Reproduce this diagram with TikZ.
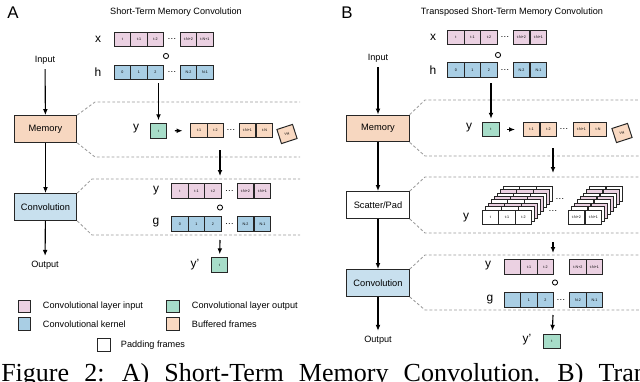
\documentclass[tikz,border=0pt]{standalone}
\usepackage{fontspec}
\setmainfont{Liberation Sans}
\newfontfamily\capserif{Liberation Serif}
\usetikzlibrary{arrows.meta,positioning}
\definecolor{inpink}{HTML}{EBD1E2}
\definecolor{kerblue}{HTML}{A9CEE4}
\definecolor{outgreen}{HTML}{A7DDC9}
\definecolor{bufpeach}{HTML}{F9D9C2}
\definecolor{memfill}{HTML}{F7D7C0}
\definecolor{convfill}{HTML}{C8E0EE}
\definecolor{zonegray}{HTML}{9A9A9A}
\tikzset{
  >={Latex[length=1.5mm,width=1.2mm]},
  cell/.style={draw=black!85, line width=.7pt, minimum width=4.1mm, minimum height=3.7mm, inner sep=0pt, font=\fontsize{2.6}{3}\selectfont},
  stage/.style={draw=black!85, line width=.7pt, minimum width=15.6mm, minimum height=6.7mm, inner sep=0pt, font=\fontsize{6.6}{8}\selectfont},
  lbl/.style={font=\fontsize{6.5}{8}\selectfont},
  var/.style={font=\fontsize{8.5}{10}\selectfont},
  flow/.style={->, line width=.8pt},
  zone/.style={draw=zonegray, line width=.6pt, dash pattern=on 2pt off 1.5pt},
  comp/.style={circle, draw, line width=.6pt, minimum size=1.3mm, inner sep=0pt},
  key/.style={draw=black!85, line width=.7pt, minimum size=3.2mm, inner sep=0pt}
}
\begin{document}
\begin{tikzpicture}[x=0.025cm,y=-0.025cm]
  \useasboundingbox (0,0) rectangle (640,382);

  % ---- panel A
  \node[font=\fontsize{12}{14}\selectfont] (tagA) at (13,13) {A};
  \node[lbl] (titleA) at (176,12) {Short-Term Memory Convolution};

  \node[var] (xA) at (98,39) {x};
  \foreach \cx/\t [count=\i] in {122.5/t,139/t-1,155.5/t-2,188.5/t-N+2,205/t-N+1}
    \node[cell,fill=inpink] (xA\i) at (\cx,39.5) {\t};
  \node[lbl] (xAdots) at (172,39.5) {\dots};
  \node[comp] (oA1) at (166,56) {};
  \node[var] (hA) at (98,72) {h};
  \foreach \cx/\t [count=\i] in {122.5/0,139/1,155.5/2,188.5/N-2,205/N-1}
    \node[cell,fill=kerblue] (hA\i) at (\cx,72.5) {\t};
  \node[lbl] (hAdots) at (172,72.5) {\dots};

  \node[lbl] (inA) at (45,60) {Input};
  \node[stage,fill=memfill] (memA) at (45.5,129) {Memory};
  \node[stage,fill=convfill] (convA) at (45.5,207) {Convolution};
  \node[lbl] (outA) at (45,265) {Output};
  \draw[flow] (inA) -- (memA);
  \draw[flow] (memA) -- (convA);
  \draw[flow] (convA) -- (outA);

  % memory zone
  \draw[zone] (memA.north east) -- (95,102) -- (300,102);
  \draw[zone] (memA.south east) -- (95,157) -- (300,157);
  \coordinate (hAend) at (158.5,83);
  \node[var] (yA) at (136,129) {y};
  \node[cell,fill=outgreen] (yAnew) at (158.5,131) {t};
  \draw[flow,shorten >=2pt] (hAend) -- (yAnew);
  \foreach \cx/\t [count=\i] in {199/t-1,215.5/t-2,247.5/t-N+1,264.5/t-N}
    \node[cell,fill=bufpeach] (bA\i) at (\cx,130.5) {\t};
  \node[lbl] (bAdots) at (231,130.5) {\dots};
  \draw[flow,shorten <=5.5pt,shorten >=5.5pt] (yAnew) -- (bA1);
  \node[cell,fill=bufpeach,rotate=18] (dropA) at (287,134) {t-N};

  \coordinate (mAout) at (220,150);
  \coordinate (cAin) at (220,176);
  \draw[flow] (mAout) -- (cAin);

  % convolution zone
  \draw[zone] (convA.north east) -- (92,179) -- (300,179);
  \draw[zone] (convA.south east) -- (92,235) -- (300,235);
  \node[var] (ycA) at (156,191) {y};
  \foreach \cx/\t [count=\i] in {180/t,196.5/t-1,213/t-2,245.5/t-N+2,262.5/t-N+1}
    \node[cell,fill=inpink] (ycA\i) at (\cx,191) {\t};
  \node[lbl] (ycAdots) at (229.5,191) {\dots};
  \node[comp] (oA2) at (220,207.5) {};
  \node[var] (gA) at (156,223) {g};
  \foreach \cx/\t [count=\i] in {180/0,196.5/1,213/2,245.5/N-2,262.5/N-1}
    \node[cell,fill=kerblue] (gA\i) at (\cx,224) {\t};
  \node[lbl] (gAdots) at (229.5,224) {\dots};

  \coordinate (cAout) at (220,240);
  \node[var] (ypA) at (195,265) {y'};
  \node[cell,fill=outgreen] (ypAcell) at (219.5,265) {t};
  \draw[flow,shorten >=2pt] (cAout) -- (ypAcell);

  % legend
  \node[key,fill=inpink] (kin) at (24.5,306.5) {};
  \node[lbl,anchor=west] (kinT) at (38,306.5) {Convolutional layer input};
  \node[key,fill=outgreen] (kout) at (173,306.5) {};
  \node[lbl,anchor=west] (koutT) at (187,306.5) {Convolutional layer output};
  \node[key,fill=kerblue] (kker) at (24.5,324) {};
  \node[lbl,anchor=west] (kkerT) at (38,324) {Convolutional kernel};
  \node[key,fill=bufpeach] (kbuf) at (173,324) {};
  \node[lbl,anchor=west] (kbufT) at (187,324) {Buffered frames};
  \node[key,fill=white] (kpad) at (104,345) {};
  \node[lbl,anchor=west] (kpadT) at (116,345) {Padding frames};

  % ---- panel B
  \node[font=\fontsize{12}{14}\selectfont] (tagB) at (347,13) {B};
  \node[lbl] (titleB) at (512,12) {Transposed Short-Term Memory Convolution};

  \node[var] (xB) at (433,37) {x};
  \foreach \cx/\t [count=\i] in {456/t,472.5/t-1,489/t-2,521.5/t-N+2,538.5/t-N+1}
    \node[cell,fill=inpink] (xB\i) at (\cx,37.5) {\t};
  \node[lbl] (xBdots) at (505,37.5) {\dots};
  \node[comp] (oB1) at (498,55) {};
  \node[var] (hB) at (433,70) {h};
  \foreach \cx/\t [count=\i] in {456/0,472.5/1,489/2,521.5/N-2,538.5/N-1}
    \node[cell,fill=kerblue] (hB\i) at (\cx,70) {\t};
  \node[lbl] (hBdots) at (505,70) {\dots};

  \node[lbl] (inB) at (378,58) {Input};
  \node[stage,fill=memfill] (memB) at (378,128.5) {Memory};
  \node[stage,fill=white] (padB) at (378,205) {Scatter/Pad};
  \node[stage,fill=convfill] (convB) at (378,283) {Convolution};
  \node[lbl] (outB) at (378,340) {Output};
  \draw[flow] (inB) -- (memB);
  \draw[flow] (memB) -- (padB);
  \draw[flow] (padB) -- (convB);
  \draw[flow] (convB) -- (outB);

  % memory zone
  \draw[zone] (memB.north east) -- (425,100) -- (640,100);
  \draw[zone] (memB.south east) -- (425,156) -- (640,156);
  \coordinate (hBend) at (491,83);
  \node[var] (yB) at (469,128) {y};
  \node[cell,fill=outgreen] (yBnew) at (491,129.5) {t};
  \draw[flow,shorten >=2pt] (hBend) -- (yBnew);
  \foreach \cx/\t [count=\i] in {531.5/t-1,548.5/t-2,581.5/t-N+1,598/t-N}
    \node[cell,fill=bufpeach] (bB\i) at (\cx,129.5) {\t};
  \node[lbl] (bBdots) at (564,129.5) {\dots};
  \draw[flow,shorten <=5.5pt,shorten >=5.5pt] (yBnew) -- (bB1);
  \node[cell,fill=bufpeach,rotate=18] (dropB) at (622,133) {t-N};

  \coordinate (mBout) at (553,148);
  \coordinate (pBin) at (553,173);
  \draw[flow] (mBout) -- (pBin);

  % scatter/pad zone
  \draw[zone] (padB.north east) -- (425,177) -- (640,177);
  \draw[zone] (padB.south east) -- (425,233) -- (640,233);
  \foreach \k/\col in {7/white,6/inpink,5/white,4/inpink,3/white,2/inpink,1/white}
    \foreach \cx [count=\i] in {490.5,507,523.5,576.5,593.5}
      \node[cell,fill=\col] (st\k-\i) at (\cx+3*\k,217.5-3.4*\k) {};
  \foreach \cx/\t [count=\i] in {490.5/t,507/t-1,523.5/t-2,576.5/t-N+2,593.5/t-N+1}
    \node[cell,fill=white] (pB\i) at (\cx,217.5) {\t};
  \node[lbl] (pBdots1) at (560,199) {\dots};
  \node[lbl] (pBdots2) at (553,211) {\dots};
  \node[var] (ypadB) at (466,218) {y};

  \coordinate (pBout) at (553,242);
  \coordinate (cBin) at (553,253);
  \draw[flow] (pBout) -- (cBin);

  % convolution zone
  \draw[zone] (convB.north east) -- (425,255) -- (640,255);
  \draw[zone] (convB.south east) -- (425,310) -- (640,310);
  \node[var] (ycB) at (488,266) {y};
  \foreach \cx/\t [count=\i] in {512.5/,529/t-1,545.5/t-2,578/t-N+2,594.5/t-N+1}
    \node[cell,fill=inpink] (ycB\i) at (\cx,267) {\t};
  \node[comp] (oB2) at (555,282.5) {};
  \node[var] (gB) at (490,300) {g};
  \foreach \cx/\t [count=\i] in {512.5/,529/1,545.5/2,578/N-2,594.5/N-1}
    \node[cell,fill=kerblue] (gB\i) at (\cx,300) {\t};
  \node[lbl] (gBdots) at (561,300) {\dots};

  \coordinate (cBout) at (553,315);
  \node[var] (ypB) at (527,340) {y'};
  \node[cell,fill=outgreen] (ypBcell) at (552,341.5) {t};
  \draw[flow,shorten >=2pt] (cBout) -- (ypBcell);

  % caption, cut by the page edge
  \begin{scope}
    \clip (0,0) rectangle (640,382);
    \node[anchor=base west,inner sep=0pt,font=\capserif\fontsize{18.5}{20}\selectfont] (caption) at (1,381)
      {\spaceskip=0.58em Figure 2: A) Short-Term Memory Convolution. B) Transposed Short-Term Memory Convolution};
  \end{scope}
\end{tikzpicture}
\end{document}
